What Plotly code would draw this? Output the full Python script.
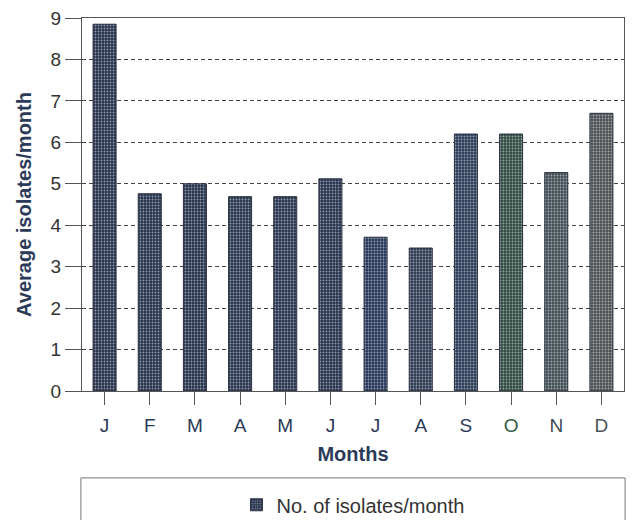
import plotly.graph_objects as go

months = ["J", "F", "M", "A", "M", "J", "J", "A", "S", "O", "N", "D"]
values = [8.85, 4.76, 5.0, 4.69, 4.69, 5.12, 3.71, 3.45, 6.2, 6.2, 5.27, 6.7]
bar_colors = ["#26324d", "#26324d", "#26324d", "#28354f", "#28354f", "#26324d",
              "#27365a", "#2c3a52", "#2b3d58", "#2e4a40", "#414f55", "#4c5155"]
label_colors = ["#2b3a58"] * 9 + ["#2f5a48", "#3f4a55", "#4a5258"]
series_name = "No. of isolates/month"

x_pos = list(range(len(months)))
tick_text = [f"<span style='color:{c}'>{m}</span>" for m, c in zip(months, label_colors)]

fig = go.Figure()
fig.add_trace(go.Bar(
    x=x_pos, y=values, name=series_name,
    marker=dict(
        color=bar_colors,
        line=dict(color="#2a3040", width=1),
        pattern=dict(shape=".", fgcolor="#d5dbe3",
                     fillmode="overlay", size=3, solidity=0.3),
    ),
    width=0.51,
    showlegend=True,
))

navy = "#2b3a58"
fig.update_layout(
    width=634, height=520,
    margin=dict(l=82, r=10, t=18, b=129, autoexpand=False),
    paper_bgcolor="white", plot_bgcolor="white",
    font=dict(family="Liberation Sans, Arial, sans-serif", color=navy, size=19),
    bargap=0.49,
    xaxis=dict(
        tickmode="array", tickvals=x_pos, ticktext=tick_text,
        range=[-0.5, 11.5], automargin=False,
        ticks="outside", ticklen=13, tickcolor="#555", tickwidth=1,
        ticklabelstandoff=4,
        showline=True, linecolor="#555", linewidth=1, mirror=True,
        showgrid=False,
        tickfont=dict(size=19, color=navy),
        title=dict(text="<b>Months</b>", font=dict(size=20, color=navy), standoff=12),
    ),
    yaxis=dict(
        range=[0, 9], dtick=1, tick0=0, automargin=False,
        ticks="outside", ticklen=16, tickcolor="#555", tickwidth=1,
        showline=True, linecolor="#555", linewidth=1, mirror=True,
        showgrid=True, gridcolor="#444", griddash="4px,3px", gridwidth=1,
        zeroline=False,
        tickfont=dict(size=19, color="#333"),
        title=dict(text="<b>Average isolates/month</b>", font=dict(size=20, color=navy), standoff=13),
    ),
    legend=dict(
        x=0.285, y=-0.305, xanchor="left", yanchor="middle",
        orientation="h", bgcolor="rgba(0,0,0,0)",
        font=dict(size=20, color="#333"),
    ),
    shapes=[dict(
        type="rect", xref="paper", yref="paper",
        x0=-0.002, x1=1.002, y0=-0.233, y1=-0.40,
        line=dict(color="#777", width=1), fillcolor="rgba(0,0,0,0)",
    )],
)

fig.write_html("out.html", config={"displayModeBar": False},
               post_script="document.body.style.margin='0px';")
